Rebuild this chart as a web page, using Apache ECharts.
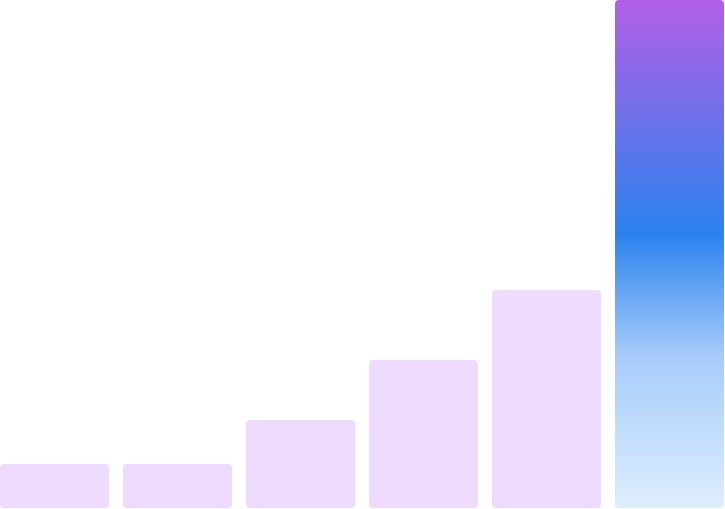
<!DOCTYPE html>
<html>
<head>
<meta charset="utf-8">
<script src="https://cdn.jsdelivr.net/npm/echarts@6/dist/echarts.min.js"></script>
<style>
  html, body { margin: 0; padding: 0; background: #fff; overflow: hidden; }
  /* chart is a bit wider than the window so the outer bars touch the edges */
  #chart { width: 738px; height: 509px; margin-left: -7px; }
</style>
</head>
<body>
<div id="chart"></div>
<script>
  // categories and values
  const categories = ["A", "B", "C", "D", "E", "F"];
  const values = [4.4, 4.4, 8.8, 14.8, 21.8, 50.8];
  const highlightIndex = 5;

  var myChart = echarts.init(document.getElementById("chart"));

  const seriesData = values.map(function (v, i) {
    if (i !== highlightIndex) return v;
    return {
      value: v,
      itemStyle: {
        color: new echarts.graphic.LinearGradient(0, 0, 0, 1, [
          { offset: 0, color: "#B25FE6" },
          { offset: 0.46, color: "#2B82EE" },
          { offset: 0.7, color: "#A6CBFA" },
          { offset: 1, color: "#DDEEFE" },
        ]),
      },
    };
  });

  const option = {
    animation: false,
    grid: { left: 0, right: 0, top: 0, bottom: 1 },
    xAxis: {
      type: "category",
      data: categories,
      show: false,
    },
    yAxis: {
      type: "value",
      min: 0,
      max: 50.8,
      show: false,
    },
    series: [
      {
        type: "bar",
        data: seriesData,
        barCategoryGap: "11.4%",
        itemStyle: {
          color: "#EFDBFE",
          borderRadius: 4,
        },
      },
    ],
  };
  myChart.setOption(option);
</script>
</body>
</html>
